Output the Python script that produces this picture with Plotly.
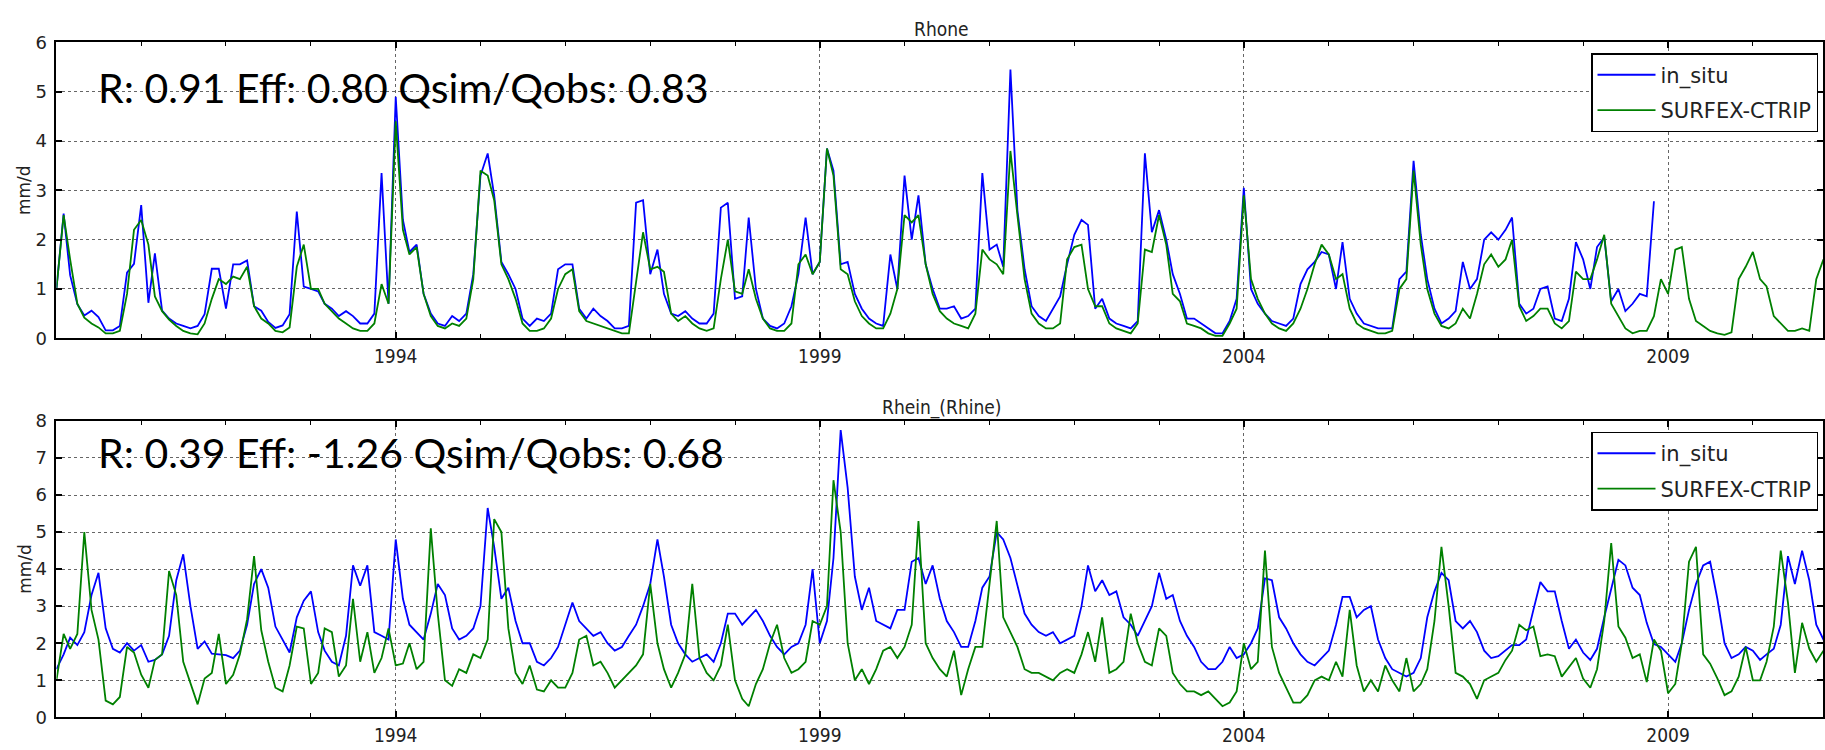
import plotly.graph_objects as go
import pandas as pd

# ---------------- data (monthly, mm/d) ----------------
start_month = "1990-01-01"

rhone_in_situ = [
    1.0, 2.53, 1.28, 0.69, 0.46, 0.56, 0.43, 0.16, 0.16, 0.25, 1.33, 1.51,
    2.7, 0.72, 1.72, 0.56, 0.4, 0.3, 0.25, 0.2, 0.25, 0.49, 1.41, 1.41,
    0.6, 1.5, 1.5, 1.58, 0.65, 0.56, 0.33, 0.21, 0.26, 0.49, 2.57, 1.05,
    1.0, 0.95, 0.7, 0.6, 0.45, 0.55, 0.45, 0.3, 0.3, 0.5, 3.35, 0.7,
    4.9, 2.4, 1.75, 1.9, 0.9, 0.5, 0.3, 0.25, 0.45, 0.35, 0.5, 1.3,
    3.3, 3.75, 2.9, 1.55, 1.3, 1.0, 0.4, 0.25, 0.4, 0.35, 0.5, 1.4,
    1.5, 1.5, 0.6, 0.4, 0.6, 0.45, 0.35, 0.2, 0.2, 0.25, 2.75, 2.8,
    1.3, 1.8, 0.9, 0.5, 0.45, 0.55, 0.4, 0.3, 0.3, 0.5, 2.65, 2.75,
    0.8, 0.85, 2.45, 1.0, 0.4, 0.25, 0.2, 0.3, 0.65, 1.3, 2.45, 1.3,
    1.55, 3.85, 3.4, 1.5, 1.55, 0.9, 0.6, 0.4, 0.3, 0.25, 1.7, 1.0,
    3.3, 2.0, 2.9, 1.5, 1.0, 0.6, 0.6, 0.65, 0.4, 0.45, 0.6, 3.35,
    1.8, 1.9, 1.45, 5.45, 2.6, 1.4, 0.65, 0.45, 0.35, 0.6, 0.85, 1.5,
    2.1, 2.4, 2.3, 0.6, 0.8, 0.4, 0.3, 0.25, 0.2, 0.35, 3.75, 2.15,
    2.6, 2.0, 1.3, 0.9, 0.4, 0.4, 0.3, 0.2, 0.1, 0.1, 0.35, 0.8,
    3.05, 1.0, 0.7, 0.5, 0.35, 0.3, 0.25, 0.4, 1.1, 1.4, 1.55, 1.75,
    1.7, 1.0, 1.95, 0.8, 0.5, 0.3, 0.25, 0.2, 0.2, 0.2, 1.2, 1.35,
    3.6, 2.1, 1.2, 0.6, 0.3, 0.4, 0.55, 1.55, 1.0, 1.2, 2.0, 2.15,
    2.0, 2.2, 2.45, 0.7, 0.5, 0.6, 1.0, 1.05, 0.4, 0.35, 0.8, 1.95,
    1.6, 1.0, 1.85, 2.05, 0.75, 1.0, 0.55, 0.7, 0.9, 0.85, 2.78,
]

rhone_surfex = [
    1.0, 2.5, 1.6, 0.7, 0.42, 0.3, 0.22, 0.1, 0.1, 0.15, 0.9, 2.2,
    2.4, 1.9, 0.85, 0.55, 0.38, 0.25, 0.15, 0.1, 0.08, 0.3, 0.8, 1.2,
    1.1, 1.25, 1.2, 1.45, 0.65, 0.4, 0.3, 0.15, 0.12, 0.22, 1.45, 1.9,
    1.0, 1.0, 0.7, 0.55, 0.4, 0.3, 0.2, 0.15, 0.15, 0.3, 1.1, 0.7,
    4.4, 2.2, 1.7, 1.85, 0.9, 0.45, 0.25, 0.2, 0.3, 0.25, 0.4, 1.2,
    3.4, 3.3, 2.8, 1.5, 1.2, 0.8, 0.3, 0.15, 0.15, 0.2, 0.4, 1.0,
    1.3, 1.4, 0.55, 0.35, 0.3, 0.25, 0.2, 0.15, 0.1, 0.1, 1.2, 2.15,
    1.4, 1.45, 1.35, 0.5, 0.35, 0.45, 0.3, 0.2, 0.15, 0.2, 1.2, 2.0,
    0.95, 0.9, 1.4, 0.8, 0.4, 0.2, 0.15, 0.15, 0.3, 1.5, 1.7, 1.3,
    1.55, 3.85, 3.3, 1.4, 1.3, 0.75, 0.45, 0.3, 0.2, 0.2, 0.5, 1.0,
    2.5, 2.35, 2.5, 1.5, 0.9, 0.55, 0.4, 0.3, 0.25, 0.2, 0.5, 1.8,
    1.6, 1.5, 1.3, 3.8, 2.5, 1.2, 0.5, 0.3, 0.2, 0.2, 0.3, 1.6,
    1.85, 1.9, 1.0, 0.65, 0.65, 0.3, 0.2, 0.15, 0.1, 0.3, 1.8, 1.75,
    2.5, 1.9, 0.9, 0.75, 0.3, 0.25, 0.2, 0.1, 0.05, 0.05, 0.3, 0.6,
    2.9, 1.2, 0.8, 0.5, 0.3, 0.2, 0.15, 0.3, 0.6, 1.0, 1.5, 1.9,
    1.7, 1.2, 1.3, 0.6, 0.3, 0.2, 0.15, 0.1, 0.1, 0.15, 1.0, 1.2,
    3.4, 1.9, 1.0, 0.5, 0.25, 0.2, 0.3, 0.6, 0.4, 0.9, 1.5, 1.7,
    1.45, 1.6, 2.0, 0.65, 0.35, 0.45, 0.6, 0.6, 0.3, 0.2, 0.35, 1.35,
    1.2, 1.2, 1.6, 2.1, 0.7, 0.45, 0.2, 0.1, 0.15, 0.15, 0.45, 1.2,
    0.9, 1.8, 1.85, 0.8, 0.35, 0.25, 0.15, 0.1, 0.07, 0.12, 1.2, 1.45,
    1.75, 1.2, 1.05, 0.45, 0.3, 0.15, 0.15, 0.2, 0.15, 1.2, 1.6,
]

rhine_in_situ = [
    1.3, 1.7, 2.15, 1.95, 2.3, 3.3, 3.9, 2.4, 1.85, 1.75, 2.0, 1.8,
    1.95, 1.5, 1.55, 1.7, 2.2, 3.7, 4.4, 3.0, 1.85, 2.05, 1.72, 1.7,
    1.68, 1.6, 1.8, 2.5, 3.6, 4.0, 3.5, 2.45, 2.1, 1.75, 2.7, 3.15,
    3.4, 2.3, 1.8, 1.5, 1.4, 2.2, 4.1, 3.55, 4.1, 2.3, 2.2, 2.1,
    4.8, 3.2, 2.5, 2.3, 2.1, 2.8, 3.6, 3.3, 2.4, 2.1, 2.2, 2.4,
    3.0, 5.65, 4.6, 3.2, 3.5, 2.6, 2.0, 2.0, 1.5, 1.4, 1.6, 1.9,
    2.5, 3.1, 2.6, 2.4, 2.2, 2.3, 2.0, 1.8, 1.9, 2.2, 2.5, 3.0,
    3.6, 4.8, 3.8, 2.5, 2.0, 1.7, 1.5, 1.6, 1.7, 1.5, 2.0, 2.8,
    2.8, 2.5, 2.7, 2.9, 2.6, 2.2, 1.9, 1.7, 1.9, 2.0, 2.5, 4.0,
    2.0, 2.6, 4.3, 7.75, 6.2, 3.8, 2.9, 3.5, 2.6, 2.5, 2.4, 2.9,
    2.9, 4.2, 4.3, 3.6, 4.1, 3.2, 2.6, 2.3, 1.9, 1.9, 2.6, 3.5,
    3.8, 5.0, 4.8, 4.3, 3.6, 2.8, 2.5, 2.3, 2.2, 2.3, 2.0, 2.1,
    2.2, 3.0, 4.1, 3.4, 3.7, 3.3, 3.4, 2.7, 2.5, 2.2, 2.6, 3.0,
    3.9, 3.2, 3.3, 2.6, 2.2, 1.9, 1.5, 1.3, 1.3, 1.5, 1.9, 1.6,
    1.7, 2.0, 2.4, 3.75, 3.7, 2.7, 2.4, 2.0, 1.7, 1.5, 1.4, 1.6,
    1.8, 2.5, 3.25, 3.25, 2.7, 2.9, 3.0, 2.1, 1.6, 1.3, 1.2, 1.1,
    1.2, 1.6, 2.7, 3.4, 3.9, 3.7, 2.6, 2.4, 2.6, 2.3, 1.8, 1.6,
    1.65, 1.8, 1.95, 1.95, 2.1, 2.9, 3.65, 3.4, 3.4, 2.6, 1.85, 2.1,
    1.75, 1.55, 1.85, 2.7, 3.5, 4.25, 4.1, 3.5, 3.3, 2.55, 1.98, 1.9,
    1.7, 1.5, 2.0, 2.9, 3.6, 4.1, 4.2, 3.2, 2.0, 1.6, 1.7, 1.9,
    1.8, 1.55, 1.7, 1.85, 2.5, 4.35, 3.6, 4.5, 3.7, 2.5, 2.1, 2.2,
]

rhine_surfex = [
    1.0, 2.25, 1.85, 2.25, 5.0, 2.9, 2.1, 0.45, 0.35, 0.55, 1.9, 1.75,
    1.15, 0.8, 1.55, 1.7, 3.95, 3.3, 1.5, 0.9, 0.35, 1.05, 1.2, 2.25,
    0.9, 1.15, 1.7, 2.65, 4.35, 2.35, 1.5, 0.8, 0.7, 1.4, 2.45, 2.4,
    0.9, 1.2, 2.4, 2.3, 1.1, 1.4, 3.2, 1.5, 2.3, 1.2, 1.6, 2.4,
    1.4, 1.45, 2.0, 1.3, 1.5, 5.1, 2.8, 1.0, 0.85, 1.3, 1.2, 1.7,
    1.6, 2.1, 5.35, 5.0, 2.4, 1.2, 0.9, 1.4, 0.75, 0.7, 1.0, 0.8,
    0.8, 1.2, 2.1, 2.2, 1.4, 1.5, 1.2, 0.8, 1.0, 1.2, 1.4, 1.7,
    3.6, 2.0, 1.3, 0.8, 1.2, 1.7, 3.6, 1.6, 1.2, 1.0, 1.4, 2.5,
    1.0, 0.5, 0.3, 0.9, 1.3, 2.0, 2.5, 1.6, 1.2, 1.3, 1.5, 2.6,
    2.5, 3.0, 6.4, 5.0, 2.0, 1.0, 1.3, 0.9, 1.3, 1.8, 1.9, 1.6,
    1.9, 2.5, 5.3, 2.0, 1.6, 1.3, 1.1, 1.8, 0.6, 1.3, 1.9, 1.9,
    3.6, 5.3, 2.7, 2.3, 1.9, 1.3, 1.2, 1.2, 1.1, 1.0, 1.2, 1.3,
    1.2, 1.7, 2.3, 1.5, 2.7, 1.2, 1.3, 1.5, 2.8, 2.0, 1.5, 1.4,
    2.4, 2.2, 1.2, 0.9, 0.7, 0.7, 0.6, 0.7, 0.5, 0.3, 0.4, 0.7,
    2.0, 1.3, 1.5, 4.5, 1.9, 1.2, 0.8, 0.4, 0.4, 0.6, 1.0, 1.1,
    1.0, 1.5, 1.1, 2.9, 1.4, 0.7, 1.0, 0.7, 1.4, 1.0, 0.7, 1.6,
    0.7, 0.9, 1.3, 2.6, 4.6, 3.0, 1.2, 1.1, 0.9, 0.5, 1.0, 1.1,
    1.2, 1.55, 1.8, 2.5, 2.35, 2.45, 1.65, 1.7, 1.65, 1.1, 1.35, 1.6,
    1.05, 0.8, 1.3, 2.6, 4.7, 2.45, 2.15, 1.6, 1.7, 0.95, 2.1, 1.8,
    0.65, 0.9, 2.0, 4.2, 4.6, 1.7, 1.45, 1.05, 0.6, 0.7, 1.1, 1.9,
    1.0, 1.0, 1.5, 2.45, 4.5, 3.1, 1.2, 2.55, 1.85, 1.5, 1.8,
]

major_years = ["1994", "1999", "2004", "2009"]
panel_titles = ["Rhone", "Rhein_(Rhine)"]
stats_texts = ["R: 0.91 Eff: 0.80 Qsim/Qobs: 0.83",
               "R: 0.39 Eff: -1.26 Qsim/Qobs: 0.68"]
series_names = ["in_situ", "SURFEX-CTRIP"]
y_max = [6, 8]


def months(n):
    return pd.date_range(start_month, periods=n, freq="MS")


W, H = 1825, 750
BLUE = "#0000ff"
GREEN = "#008000"

fig = go.Figure()
panels = [(rhone_in_situ, rhone_surfex), (rhine_in_situ, rhine_surfex)]
for i, (obs, sim) in enumerate(panels):
    xa = "x" if i == 0 else "x2"
    ya = "y" if i == 0 else "y2"
    lg = "legend" if i == 0 else "legend2"
    fig.add_trace(go.Scatter(x=months(len(obs)), y=obs, mode="lines",
                             name=series_names[0], xaxis=xa, yaxis=ya,
                             legend=lg, legendgroup=f"a{i}",
                             line=dict(color=BLUE, width=1.8)))
    fig.add_trace(go.Scatter(x=months(len(sim)), y=sim, mode="lines",
                             name=series_names[1], xaxis=xa, yaxis=ya,
                             legend=lg, legendgroup=f"b{i}",
                             line=dict(color=GREEN, width=1.8)))


def px(x):
    return x / W


def py(y):
    return 1 - y / H


x_left = px(56.5)
top_dom = [py(336.7), py(32.4)]
bot_dom = [py(726.7), py(421.7)]

xaxis_common = dict(
    range=["1990-01-01", "2010-10-30"],
    tickvals=[f"{y}-01-01" for y in major_years],
    ticktext=major_years,
    ticks="inside", ticklen=6, tickwidth=1.5, tickcolor="black",
    showgrid=True, gridcolor="#666", griddash="dot", gridwidth=1,
    showline=True, linecolor="black", linewidth=2, mirror="ticks",
    zeroline=False,
    tickfont=dict(family="DejaVu Sans Condensed", size=19, color="#222"),
    minor=dict(ticks="inside", ticklen=4, tickwidth=1.2, tickcolor="black",
               dtick="M12", tick0="1990-01-01", showgrid=False),
)
yaxis_common = dict(
    ticks="inside", ticklen=6, tickwidth=1.5, tickcolor="black",
    showgrid=True, gridcolor="#666", griddash="dot", gridwidth=1,
    showline=True, linecolor="black", linewidth=2, mirror="ticks",
    zeroline=False, dtick=1, ticklabelstandoff=4,
    tickfont=dict(family="DejaVu Sans", size=18, color="#222"),
)

legend_common = dict(
    x=px(1820), xanchor="right", yanchor="top",
    bgcolor="white", bordercolor="black", borderwidth=1.5,
    font=dict(family="DejaVu Sans", size=21, color="#222"),
    traceorder="grouped", tracegroupgap=5, itemwidth=58,
)

fig.update_layout(
    width=W, height=H,
    margin=dict(l=0, r=0, t=0, b=0),
    paper_bgcolor="white", plot_bgcolor="white",
    showlegend=True,
    xaxis=dict(domain=[x_left, 1], anchor="y", **xaxis_common),
    yaxis=dict(domain=top_dom, anchor="x", range=[0, y_max[0]], **yaxis_common),
    xaxis2=dict(domain=[x_left, 1], anchor="y2", **xaxis_common),
    yaxis2=dict(domain=bot_dom, anchor="x2", range=[0, y_max[1]], **yaxis_common),
    legend=dict(y=py(43.3), **legend_common),
    legend2=dict(y=py(432.7), **legend_common),
)

annotations = []
for t, yc in zip(panel_titles, [18.5, 408]):
    annotations.append(dict(text=t, x=px(943), y=py(yc), xref="paper", yref="paper",
                            xanchor="center", yanchor="middle", showarrow=False,
                            font=dict(family="DejaVu Sans Condensed", size=19, color="#222")))
for yc in [(32.4 + 336.7) / 2, (421.7 + 726.7) / 2]:
    annotations.append(dict(text="mm/d", x=px(24.7), y=py(yc), xref="paper", yref="paper",
                            xanchor="center", yanchor="middle", textangle=-90, showarrow=False,
                            font=dict(family="DejaVu Sans", size=17, color="#222")))
for t, yc in zip(stats_texts, [78.5, 454.5]):
    annotations.append(dict(text=t, x=px(96), y=py(yc), xref="paper", yref="paper",
                            xanchor="left", yanchor="middle", showarrow=False,
                            font=dict(family="Lato", size=41, color="black")))
fig.update_layout(annotations=annotations)

fig.write_html("out.html")
